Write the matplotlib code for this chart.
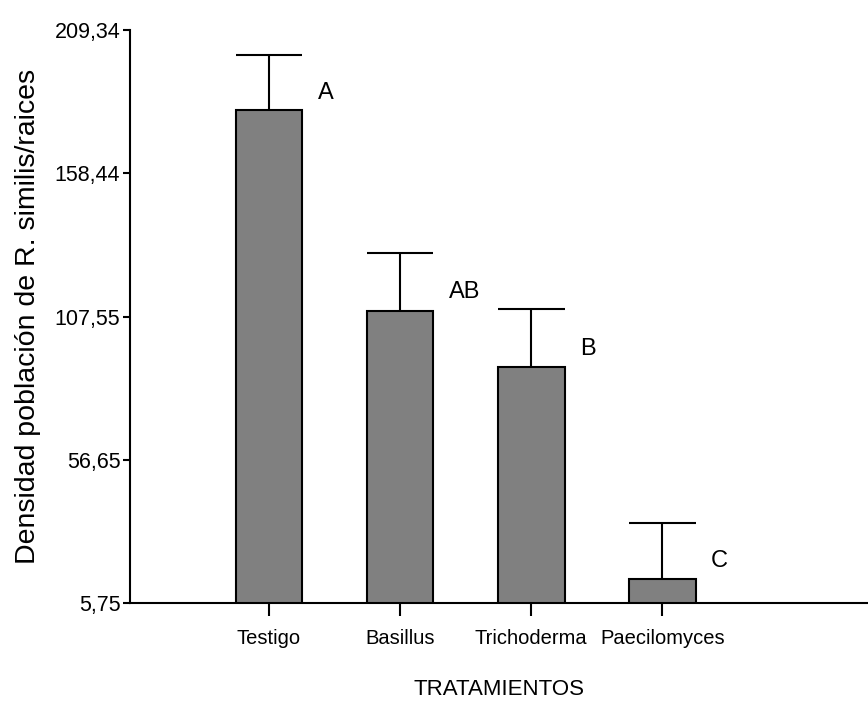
"""Densidad poblacional de R. similis por tratamiento."""

import matplotlib

matplotlib.use("Agg")
import matplotlib.pyplot as plt
import numpy as np

tratamientos = ["Testigo", "Basillus", "Trichoderma", "Paecilomyces"]
medias = [180.9, 109.5, 89.5, 14.3]
error_sup = [19.6, 20.7, 20.7, 20.0]
letras = ["A", "AB", "B", "C"]
yticks = [5.75, 56.65, 107.55, 158.44, 209.34]
ytick_labels = ["5,75", "56,65", "107,55", "158,44", "209,34"]

fuente = ["Liberation Sans Narrow", "Liberation Sans", "DejaVu Sans"]
lw = 1.5

fig = plt.figure(figsize=(8.68, 7.02), dpi=100)
ax = fig.add_axes([0.1498, 0.141, 0.8502, 0.816])

x = np.arange(len(tratamientos))
w = 0.51
ax.bar(x, medias, width=w, color="#808080", edgecolor="black", linewidth=lw,
       bottom=0, zorder=2)
tops = np.array(medias) + np.array(error_sup)
ax.vlines(x, medias, tops, color="black", linewidth=lw, zorder=3)
ax.hlines(tops, x - w / 2, x + w / 2, color="black", linewidth=lw, zorder=3)

for xi, m, e, l in zip(x, medias, error_sup, letras):
    ax.text(xi + 0.37, m + 0.32 * e, l, ha="left", va="center",
            fontsize=17, family=fuente)

ax.set_ylim(5.75, 209.34)
ax.set_xlim(-1.06, 4.57)
ax.set_yticks(yticks)
ax.set_yticklabels(ytick_labels, family=fuente, fontsize=15.5)
ax.set_xticks(x)
ax.set_xticklabels(tratamientos, family=fuente, fontsize=14.5)
ax.tick_params(axis="y", length=5, width=lw, pad=2)
ax.tick_params(axis="x", length=9, width=lw, pad=10)

for s in ["top", "right"]:
    ax.spines[s].set_visible(False)
for s in ["left", "bottom"]:
    ax.spines[s].set_linewidth(lw)

ax.set_xlabel("TRATAMIENTOS", family=fuente, fontsize=16, labelpad=22)
ax.set_ylabel("Densidad población de R. similis/raices",
              family=["Liberation Sans", "DejaVu Sans"], fontsize=20.5)
ax.yaxis.set_label_coords(-0.12, 0.5)

fig.savefig("out.png", dpi=100)
